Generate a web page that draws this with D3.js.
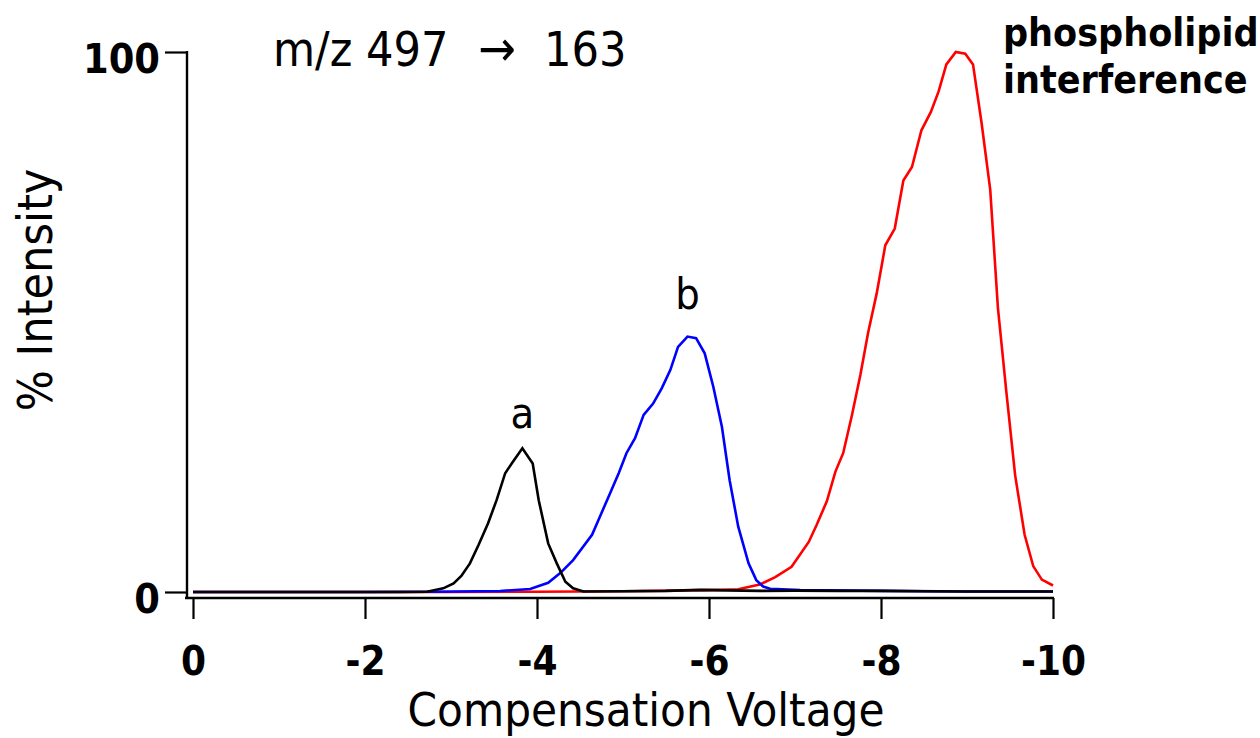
<!DOCTYPE html>
<html>
<head>
<meta charset="utf-8">
<script src="https://cdn.jsdelivr.net/npm/d3@7"></script>
<style>
  html, body { margin: 0; padding: 0; background: #fff; }
  svg { display: block; font-family: "DejaVu Sans Condensed", "DejaVu Sans", sans-serif; }
</style>
</head>
<body>
<svg id="chart" width="1260" height="738"></svg>
<script>
// ---- data ----
const xTicks = [0, -2, -4, -6, -8, -10];
const xTickLabels = ["0", "-2", "-4", "-6", "-8", "-10"];
const yTicks = [0, 100];
const yTickLabels = ["0", "100"];

// trace a (black)
const voltA = [0, -1, -2, -2.41, -2.72, -2.91, -3.03, -3.12, -3.22, -3.32, -3.43, -3.53, -3.63, -3.71, -3.83, -3.95, -4.02, -4.13, -4.23, -4.33, -4.42, -4.54, -5.0, -5.5, -5.9, -6.2, -6.6, -7.0, -7.5, -8.0, -8.5, -9.0, -10];
const intA  = [0, 0, 0, 0, 0.06, 0.68, 1.6, 2.96, 5.3, 8.7, 12.7, 17.0, 22.0, 23.9, 26.6, 23.8, 17.0, 9.0, 5.3, 1.9, 0.68, 0.1, 0.15, 0.2, 0.4, 0.3, 0.2, 0.25, 0.2, 0.2, 0.15, 0.1, 0.1];

// trace b (blue)
const voltB = [0, -2, -2.8, -3.57, -3.92, -4.13, -4.27, -4.42, -4.64, -4.73, -4.85, -4.95, -5.04, -5.14, -5.24, -5.35, -5.45, -5.55, -5.64, -5.75, -5.85, -5.95, -6.05, -6.15, -6.24, -6.34, -6.46, -6.55, -6.63, -6.71, -7.06, -8.0, -9.0, -10];
const intB  = [0, 0, 0.05, 0.19, 0.56, 1.7, 3.5, 5.9, 10.6, 13.9, 18.3, 22.0, 25.7, 28.5, 32.8, 34.9, 37.7, 41.1, 45.4, 47.3, 47.0, 44.2, 38.0, 30.6, 20.7, 12.1, 5.3, 2.2, 1.0, 0.6, 0.37, 0.2, 0.1, 0.1];

// phospholipid interference (red)
const voltP = [0, -2, -3, -4, -5, -5.6, -6.13, -6.34, -6.59, -6.77, -6.96, -7.16, -7.25, -7.37, -7.47, -7.56, -7.66, -7.76, -7.85, -7.95, -8.05, -8.16, -8.26, -8.36, -8.47, -8.58, -8.67, -8.76, -8.87, -8.98, -9.07, -9.17, -9.27, -9.36, -9.46, -9.56, -9.67, -9.77, -9.87, -10];
const intP  = [0, 0, 0, 0.05, 0.15, 0.25, 0.4, 0.5, 1.38, 2.75, 4.67, 9.27, 12.36, 16.8, 22.3, 25.7, 32.6, 40.2, 48.0, 55.3, 64.2, 67.3, 76.2, 78.7, 85.5, 88.9, 92.7, 97.7, 100, 99.7, 97.7, 86.8, 74.5, 52.5, 36.7, 21.6, 10.6, 4.8, 2.3, 1.2];

const titleParts = ["m/z 497", "\u2192", "163"];
const xTitle = "Compensation Voltage";
const yTitle = "% Intensity";
const labelA = "a";
const labelB = "b";
const noteLines = ["phospholipid", "interference"];

// ---- layout ----
const svg = d3.select("#chart");
const x = d3.scaleLinear().domain([0, -10]).range([193, 1053]);
const y = d3.scaleLinear().domain([0, 100]).range([592, 52]);
const xAxisY = 598;
const yAxisX = 187;

const line = d3.line().x(d => x(d[0])).y(d => y(d[1]));
const zip = (a, b) => a.map((v, i) => [v, b[i]]);

// traces: red, blue, black
[[voltP, intP, "#ff0000"], [voltB, intB, "#0000ff"], [voltA, intA, "#000000"]].forEach(([vx, vy, col]) => {
  svg.append("path")
    .datum(zip(vx, vy))
    .attr("d", line)
    .attr("fill", "none")
    .attr("stroke", col)
    .attr("stroke-width", 2.6)
    .attr("stroke-linejoin", "miter");
});

// x axis
const xAxis = d3.axisBottom(x).tickValues(xTicks).tickSize(21).tickSizeOuter(0)
  .tickFormat((d, i) => xTickLabels[i]);
const gx = svg.append("g").attr("transform", `translate(0,${xAxisY})`).call(xAxis);
gx.select(".domain").remove();
gx.selectAll(".tick line").attr("stroke", "#000").attr("stroke-width", 2.2);
gx.selectAll(".tick text")
  .attr("y", 77).attr("dy", null)
  .attr("font-size", 40).attr("font-weight", "bold")
  .attr("font-family", "DejaVu Sans Condensed, DejaVu Sans, sans-serif")
  .attr("fill", "#000");
svg.append("line")
  .attr("x1", yAxisX - 2).attr("x2", x.range()[1] + 1)
  .attr("y1", xAxisY).attr("y2", xAxisY)
  .attr("stroke", "#000").attr("stroke-width", 2.4);

// y axis
const yAxis = d3.axisLeft(y).tickValues(yTicks).tickSize(22).tickSizeOuter(0)
  .tickFormat((d, i) => yTickLabels[i]);
const gy = svg.append("g").attr("transform", `translate(${yAxisX},0)`).call(yAxis);
gy.select(".domain").remove();
gy.selectAll(".tick line").attr("stroke", "#000").attr("stroke-width", 2.2);
gy.selectAll(".tick text")
  .attr("x", -27).attr("dy", "0.5em")
  .attr("font-size", 41).attr("font-weight", "bold")
  .attr("font-family", "DejaVu Sans Condensed, DejaVu Sans, sans-serif")
  .attr("fill", "#000");
svg.append("line")
  .attr("x1", yAxisX).attr("x2", yAxisX)
  .attr("y1", y(100) - 1).attr("y2", xAxisY)
  .attr("stroke", "#000").attr("stroke-width", 2.4);

// title
const title = svg.append("text").attr("x", 273).attr("y", 66).attr("font-size", 48);
title.append("tspan").text(titleParts[0]);
title.append("tspan").attr("x", 478).attr("font-size", 50).text(titleParts[1]);
title.append("tspan").attr("x", 544).text(titleParts[2]);

svg.append("text").attr("x", 646).attr("y", 726)
  .attr("text-anchor", "middle").attr("font-size", 47).text(xTitle);
svg.append("text")
  .attr("transform", "translate(52,290) rotate(-90)")
  .attr("text-anchor", "middle").attr("font-size", 48).text(yTitle);

// peak labels
svg.append("text").attr("x", x(-3.83)).attr("y", y(26.6) - 20)
  .attr("text-anchor", "middle").attr("font-size", 43).text(labelA);
svg.append("text").attr("x", x(-5.75)).attr("y", y(47.3) - 28)
  .attr("text-anchor", "middle").attr("font-size", 43).text(labelB);

// note
noteLines.forEach((t, i) => {
  svg.append("text").attr("x", 1003).attr("y", 46 + i * 47)
    .attr("font-size", 39).attr("font-weight", "bold").text(t);
});
</script>
</body>
</html>
